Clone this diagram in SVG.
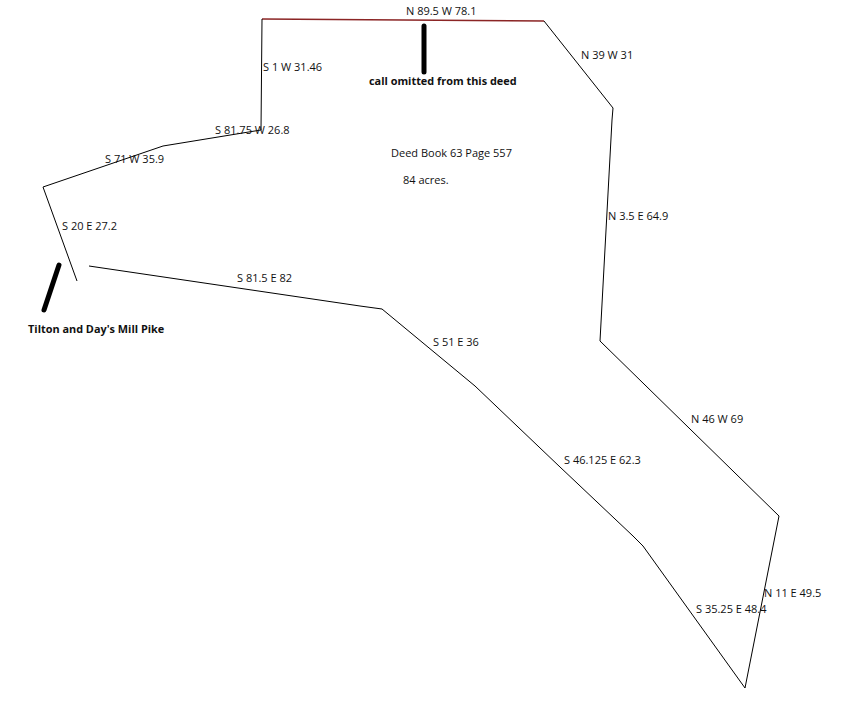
<svg xmlns="http://www.w3.org/2000/svg" width="863" height="710" viewBox="0 0 863 710">
<style>
.b{fill:none;stroke:#000;stroke-width:1}
.r{fill:none;stroke:#8b2525;stroke-width:1.3}
.m{stroke:#000;stroke-width:5;stroke-linecap:round}
.t{font-family:"Open Sans","Noto Sans",sans-serif;font-size:11px;fill:#111}
.tb{font-family:"Open Sans","Noto Sans",sans-serif;font-size:10.9px;font-weight:bold;fill:#111}
</style>
<rect width="863" height="710" fill="#fff"/>
<g id="boundary">
<polyline class="r" points="262,19 333,19.5 473,20.5 544,21"/>
<polyline class="b" points="544,21 613,108 612,120 600,341 779,516 745,688 643,546 633,536 560,467 475,386 382,309 360,306 89,266"/>
<polyline class="b" points="262,19 261,130 163,146 43,187 77,281"/>
</g>
<g id="markers">
<line class="m" x1="424" y1="26" x2="424" y2="72"/>
<line class="m" x1="59" y1="265" x2="44" y2="310"/>
</g>
<g id="labels">
<text class="t" x="406" y="15">N 89.5 W 78.1</text>
<text class="t" x="263" y="71">S 1 W 31.46</text>
<text class="tb" x="369" y="85">call omitted from this deed</text>
<text class="t" x="581" y="59">N 39 W 31</text>
<text class="t" x="215" y="134">S 81.75 W 26.8</text>
<text class="t" x="105" y="163">S 71 W 35.9</text>
<text class="t" x="391" y="157">Deed Book 63 Page 557</text>
<text class="t" x="403" y="184">84 acres.</text>
<text class="t" x="62" y="230">S 20 E 27.2</text>
<text class="tb" x="28" y="333">Tilton and Day's Mill Pike</text>
<text class="t" x="237" y="282">S 81.5 E 82</text>
<text class="t" x="433" y="346">S 51 E 36</text>
<text class="t" x="564" y="464">S 46.125 E 62.3</text>
<text class="t" x="691" y="423">N 46 W 69</text>
<text class="t" x="608" y="220">N 3.5 E 64.9</text>
<text class="t" x="764" y="597">N 11 E 49.5</text>
<text class="t" x="696" y="613">S 35.25 E 48.4</text>
</g>
</svg>
